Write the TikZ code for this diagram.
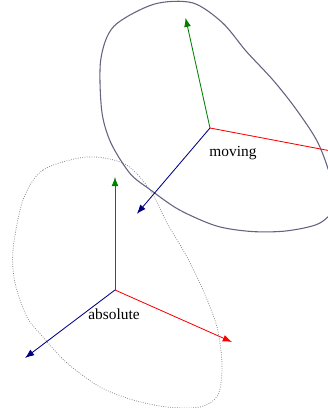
\documentclass[tikz,border=0pt]{standalone}
\usepackage{fontspec}
\setmainfont{Liberation Serif}
\usetikzlibrary{arrows.meta}

\definecolor{blobline}{RGB}{100,100,128}
\definecolor{navyaxis}{RGB}{0,0,128}
\definecolor{greenaxis}{RGB}{0,128,0}

\newcommand{\blobshape}{plot[smooth cycle] coordinates {(-28,133) (-72,120) (-92,90) (-102,40) (-100,7) (-88,-27) (-72,-47) (-48,-73) (-15,-97) (18,-110) (52,-117) (85,-117) (103,-105) (107,-75) (102,-37) (88,0) (72,33) (52,67) (35,100) (10,126)}}

\tikzset{
  axis/.style={line width=0.55pt, -{Latex[length=6pt,width=4.5pt]}},
  fixedblob/.style={draw=gray, line width=0.5pt, dash pattern=on 0.5pt off 1pt},
  movingblob/.style={draw=blobline, line width=0.7pt}
}

\begin{document}
\begin{tikzpicture}[x=0.65pt,y=0.65pt]
  \useasboundingbox (0,0) rectangle (328,408);
  \clip (0,0) rectangle (328,408);

  % absolute frame
  \begin{scope}[shift={(115,118)}]
    \draw[fixedblob] \blobshape;
    \coordinate (A) at (0,0);
    \coordinate (Ax) at (117,-52);
    \coordinate (Ay) at (0,113);
    \coordinate (Az) at (-90,-68);
    \draw[axis, red] (A) -- (Ax);
    \draw[axis, greenaxis] (A) -- (Ay);
    \draw[axis, navyaxis] (A) -- (Az);
  \end{scope}
  \node (abslabel) at (114,94) {absolute};

  % moving frame
  \begin{scope}[shift={(210,280)}, rotate=12.5]
    \draw[movingblob] \blobshape;
    \coordinate (M) at (0,0);
    \coordinate (Mx) at (128,-55);
    \coordinate (My) at (0,113);
    \coordinate (Mz) at (-90,-68);
    \draw[axis, red] (M) -- (Mx);
    \draw[axis, greenaxis] (M) -- (My);
    \draw[axis, navyaxis] (M) -- (Mz);
  \end{scope}
  \node (movlabel) at (233,255) {moving};
\end{tikzpicture}
\end{document}
